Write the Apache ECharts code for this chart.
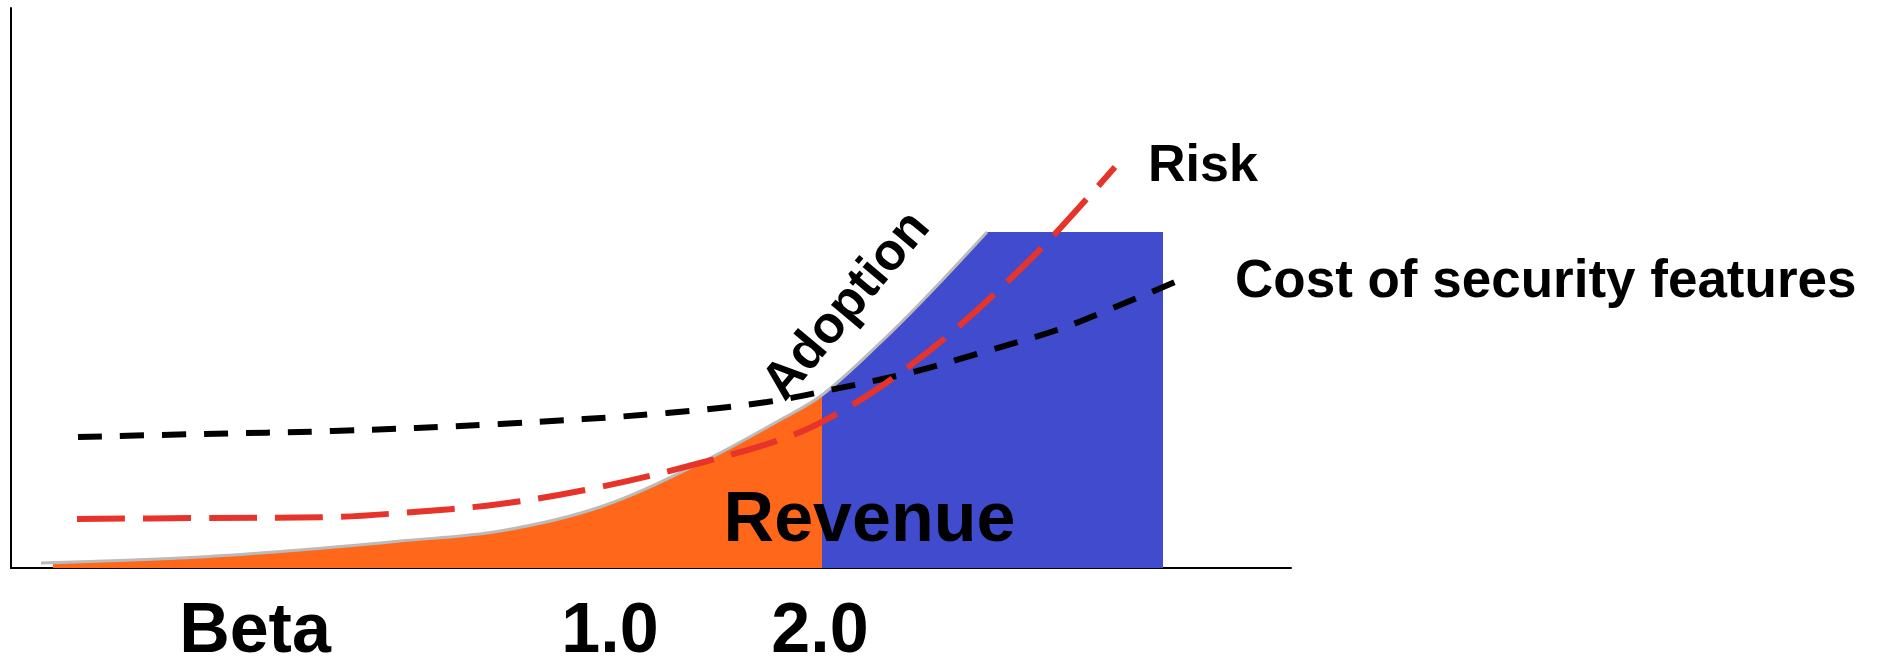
<!DOCTYPE html>
<html>
<head>
<meta charset="utf-8">
<script src="https://cdn.jsdelivr.net/npm/echarts@6/dist/echarts.min.js"></script>
<style>
  html, body { margin: 0; padding: 0; background: #fff; }
  #chart { width: 1877px; height: 660px; }
</style>
</head>
<body>
<div id="chart"></div>
<script>
// ---- data (x: time-ish scale 0..128, y: level 0..56) ----
const xTickValues = [24.4, 59.9, 80.9];
const xTickLabels = ['Beta', '1.0', '2.0'];

const adoptionCurve = [[3.0,0.5],[18.9,1.1],[28.9,1.8],[38.9,2.7],[48.9,3.7],[58.9,6.1],[68.9,10.5],[76.9,14.8],[81.1,17.3],[86.9,22.5],[91.9,27.5],[97.6,33.6]];
const revenueEarly = [[4.2,0.5],[18.9,1.1],[28.9,1.8],[38.9,2.7],[48.9,3.7],[58.9,6.1],[68.9,10.5],[76.9,14.8],[81.1,17.3]];
const revenueLate = [[81.1,17.3],[86.9,22.5],[91.9,27.5],[97.6,33.6]];
const revenuePlateau = [[97.6,33.6],[115.2,33.6]];
const costSecurity = [[6.7,13.1],[18.9,13.4],[32.2,13.7],[48.9,14.4],[65.6,15.5],[75.6,16.6],[81.9,17.8],[90.2,19.6],[96.9,21.5],[104.6,23.8],[110.2,26.0],[116.4,28.6]];
const risk = [[6.6,4.9],[18.9,5.0],[32.2,5.1],[38.9,5.5],[48.9,6.4],[58.9,8.1],[68.9,10.5],[78.2,13.3],[84.1,16.3],[89.6,20.0],[94.7,24.1],[99.6,28.6],[104.2,33.2],[110.4,40.1]];

const adoptionLabel = { text: 'Adoption', at: [83.6, 26.2], rotate: 50 };
const revenueLabel = { text: 'Revenue', at: [85.85, 4.6] };
const riskLabel = 'Risk';
const costLabel = 'Cost of security features';

const FONT = '"Liberation Sans", Arial, Helvetica, sans-serif';
const ORANGE = '#FF681A';
const BLUE = '#414BCD';
const RED = '#E6342A';
const SMOOTH = 0.35;

const chart = echarts.init(document.getElementById('chart'), null, { renderer: 'canvas' });
chart.setOption({
  animation: false,
  backgroundColor: '#fff',
  grid: { left: 11, right: 586, top: 8, bottom: 92, containLabel: false, outerBoundsMode: 'none' },
  xAxis: {
    type: 'value', min: 0, max: 128,
    axisLine: { show: true, onZero: false, lineStyle: { color: '#000', width: 2 } },
    axisTick: { show: false },
    splitLine: { show: false },
    axisLabel: {
      show: true,
      customValues: xTickValues,
      formatter: function (v) {
        const i = xTickValues.findIndex(t => Math.abs(t - v) < 1e-6);
        return i >= 0 ? xTickLabels[i] : '';
      },
      fontFamily: FONT, fontWeight: 'bold', fontSize: 70, color: '#000',
      margin: 30, lineHeight: 70
    }
  },
  yAxis: {
    type: 'value', min: 0, max: 56,
    axisLine: { show: true, onZero: false, lineStyle: { color: '#000', width: 2 } },
    axisTick: { show: false },
    splitLine: { show: false },
    axisLabel: { show: false }
  },
  series: [
    {
      name: 'revenueEarly', type: 'line', data: revenueEarly, smooth: SMOOTH,
      symbol: 'none', lineStyle: { width: 0 }, areaStyle: { color: ORANGE, opacity: 1 }, z: 1
    },
    {
      name: 'revenueLate', type: 'line', data: revenueLate, smooth: SMOOTH,
      symbol: 'none', lineStyle: { width: 0 }, areaStyle: { color: BLUE, opacity: 1 }, z: 1
    },
    {
      name: 'revenuePlateau', type: 'line', data: revenuePlateau, smooth: false,
      symbol: 'none', lineStyle: { width: 0 }, areaStyle: { color: BLUE, opacity: 1 }, z: 1,
      markPoint: {
        symbol: 'circle', symbolSize: 0,
        data: [{ coord: revenueLabel.at, value: revenueLabel.text }],
        label: {
          show: true, position: 'inside', formatter: revenueLabel.text,
          fontFamily: FONT, fontWeight: 'bold', fontSize: 70, color: '#000'
        }
      }
    },
    {
      name: 'adoption', type: 'line', data: adoptionCurve, smooth: SMOOTH,
      symbol: 'none', lineStyle: { color: '#BBBBBB', width: 3 }, z: 2,
      markPoint: {
        symbol: 'circle', symbolSize: 0,
        data: [{ coord: adoptionLabel.at, value: adoptionLabel.text }],
        label: {
          show: true, position: 'inside', formatter: adoptionLabel.text, rotate: adoptionLabel.rotate,
          fontFamily: FONT, fontWeight: 'bold', fontSize: 52, color: '#000'
        }
      }
    },
    {
      name: 'cost', type: 'line', data: costSecurity, smooth: SMOOTH,
      symbol: 'none', lineStyle: { color: '#000', width: 6, type: [24, 18] }, z: 3,
      endLabel: {
        show: true, formatter: costLabel, distance: 60,
        fontFamily: FONT, fontWeight: 'bold', fontSize: 53, color: '#000'
      }
    },
    {
      name: 'risk', type: 'line', data: risk, smooth: SMOOTH,
      symbol: 'none', lineStyle: { color: RED, width: 6, type: [48, 18] }, z: 4,
      endLabel: {
        show: true, formatter: riskLabel, distance: 33,
        fontFamily: FONT, fontWeight: 'bold', fontSize: 52, color: '#000'
      }
    }
  ]
});
</script>
</body>
</html>
